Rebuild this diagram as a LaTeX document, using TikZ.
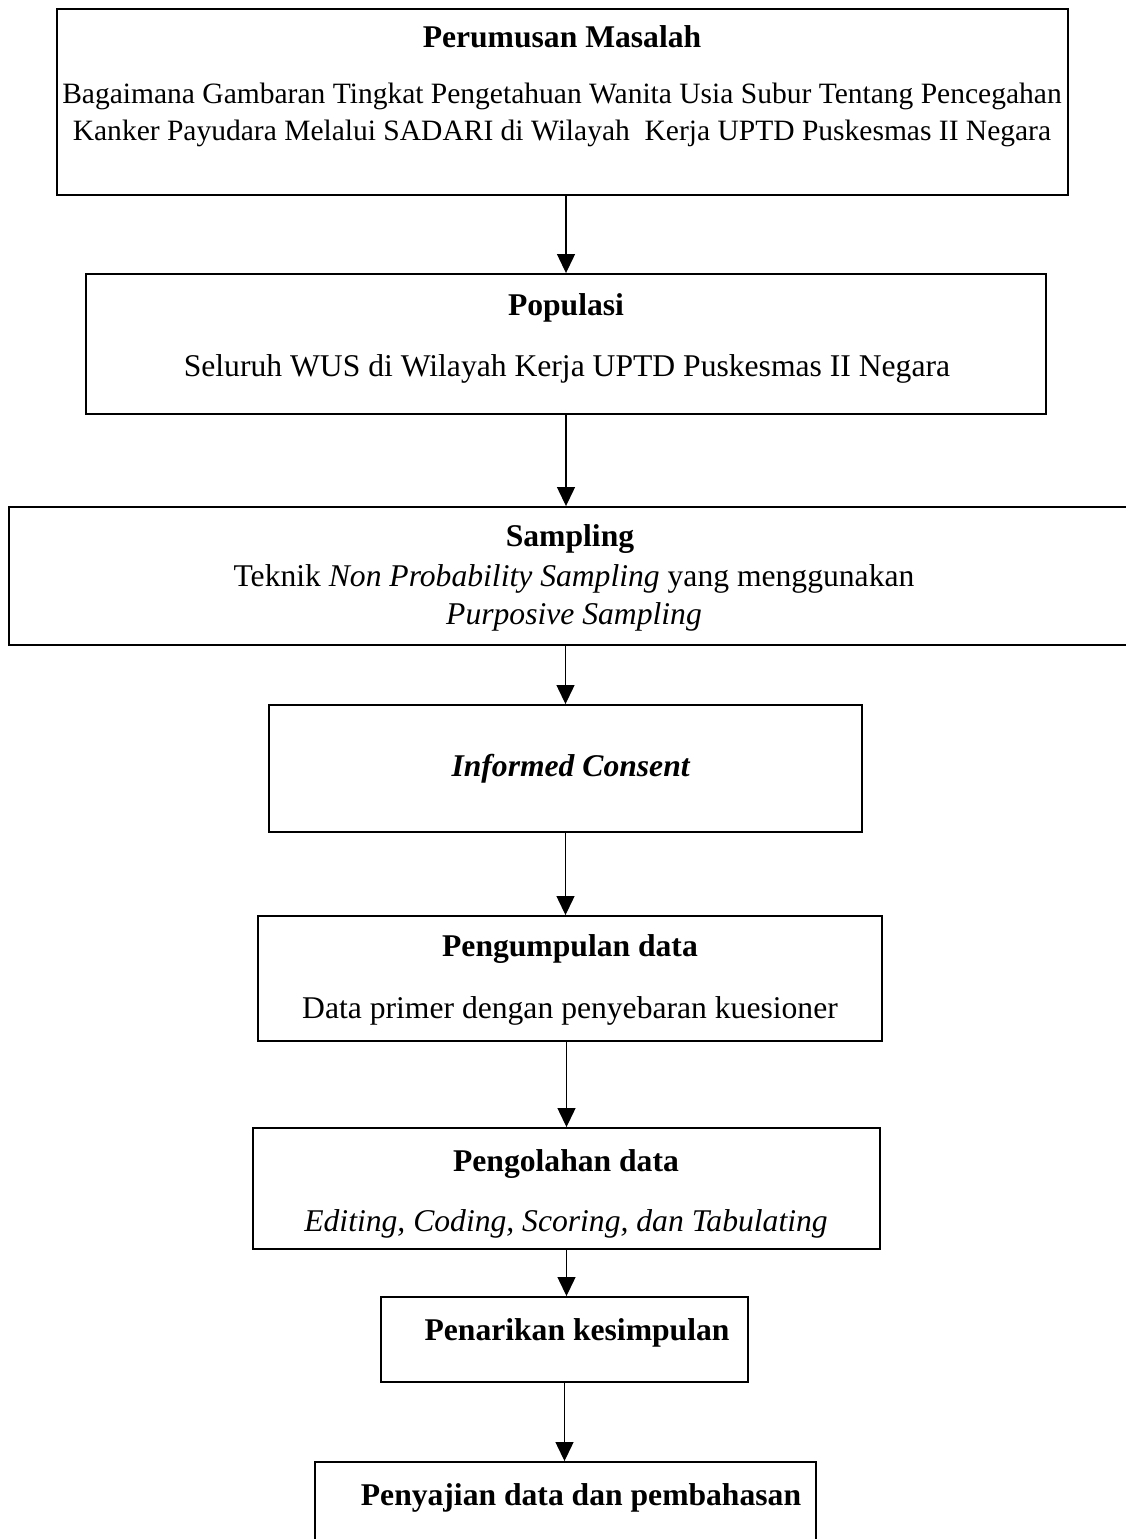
\documentclass[tikz,border=0pt]{standalone}
\usepackage{fontspec}
\setmainfont{Liberation Serif}
\usetikzlibrary{arrows.meta}

\begin{document}
\begin{tikzpicture}[x=0.02cm,y=-0.02cm,
		box/.style={draw, line width=1.1pt, inner sep=0pt},
		txt/.style={inner sep=0pt, align=center, font=\fontsize{18}{22}\selectfont},
		head/.style={inner sep=0pt, align=center, font=\fontsize{18}{22}\selectfont\bfseries},
		arr/.style={line width=0.7pt, -{Triangle[length=0.38cm,width=0.36cm]}}]
			\clip (0,0) rectangle (1126,1539);
			% boxes
			\node [box, minimum width=20.22cm, minimum height=3.72cm] (masalah) at (562.5,102) {};
			\node [box, minimum width=19.2cm, minimum height=2.8cm] (populasi) at (566,344) {};
			\node [box, minimum width=22.44cm, minimum height=2.76cm] (sampling) at (570,576) {};
			\node [box, minimum width=11.86cm, minimum height=2.54cm] (consent) at (565.5,768.5) {};
			\node [box, minimum width=12.48cm, minimum height=2.5cm] (kumpul) at (570,978.5) {};
			\node [box, minimum width=12.54cm, minimum height=2.42cm] (olah) at (566.5,1188.5) {};
			\node [box, minimum width=7.34cm, minimum height=1.7cm] (simpul) at (564.5,1339.5) {};
			\node [box, minimum width=10.02cm, minimum height=1.96cm] (saji) at (565.5,1511) {};
			% texts
			\node [head] (masalahH) at (562,37) {Perumusan Masalah};
			\node [txt, font=\fontsize{16.8}{21}\selectfont] (masalahT) at (562,115) {Bagaimana Gambaran Tingkat Pengetahuan Wanita Usia Subur Tentang Pencegahan\\Kanker Payudara Melalui SADARI di Wilayah~ Kerja UPTD Puskesmas II Negara};
			\node [head] (populasiH) at (566,308) {Populasi};
			\node [txt] (populasiT) at (567,369) {Seluruh WUS di Wilayah Kerja UPTD Puskesmas II Negara};
			\node [head] (samplingH) at (570,539) {Sampling};
			\node [txt] (samplingT) at (574,598) {Teknik \textit{Non Probability Sampling} yang menggunakan\\\textit{Purposive Sampling}};
			\node [head] (consentH) at (571,769) {\textit{Informed Consent}};
			\node [head] (kumpulH) at (570,949) {Pengumpulan data};
			\node [txt] (kumpulT) at (570,1011) {Data primer dengan penyebaran kuesioner};
			\node [head] (olahH) at (566,1164) {Pengolahan data};
			\node [txt] (olahT) at (566,1224) {\textit{Editing, Coding, Scoring, dan Tabulating}};
			\node [head] (simpulH) at (577,1333) {Penarikan kesimpulan};
			\node [head] (sajiH) at (581,1498) {Penyajian data dan pembahasan};
			% arrows
			\draw [arr] (masalah.south -| populasi.north) -- (populasi.north);
			\draw [arr] (populasi.south) -- (populasi.south |- sampling.north);
			\draw [arr] (consent.north |- sampling.south) -- (consent.north);
			\draw [arr] (consent.south) -- (consent.south |- kumpul.north);
			\draw [arr] (olah.north |- kumpul.south) -- (olah.north);
			\draw [arr] (olah.south) -- (olah.south |- simpul.north);
			\draw [arr] (simpul.south) -- (simpul.south |- saji.north);
		\end{tikzpicture}
\end{document}
